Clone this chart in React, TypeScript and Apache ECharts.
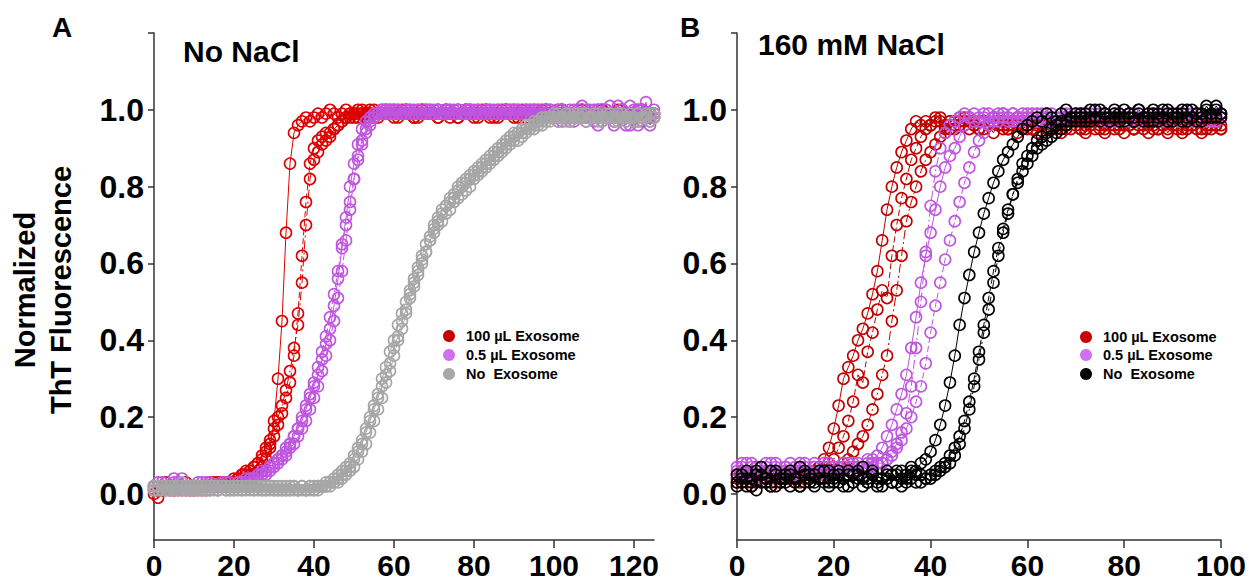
import React, { useEffect, useRef } from "react";
import * as echarts from "echarts";

// ---------- DATA ----------
const tA = [
  0,1,2,3,4,5,6,7,8,9,10,11,12,13,14,15,16,17,18,19,20,21,22,23,24,25,26,27,28,29,
  30,31,32,33,34,35,36,37,38,39,40,41,42,43,44,45,46,47,48,49,50,51,52,53,54,55,56,57,58,59,
  60,61,62,63,64,65,66,67,68,69,70,71,72,73,74,75,76,77,78,79,80,81,82,83,84,85,86,87,88,89,
  90,91,92,93,94,95,96,97,98,99,100,101,102,103,104,105,106,107,108,109,110,111,112,113,114,115,116,117,118,119,
  120,121,122,123,124,125,
];
const tB = [
  0,1,2,3,4,5,6,7,8,9,10,11,12,13,14,15,16,17,18,19,20,21,22,23,24,25,26,27,28,29,
  30,31,32,33,34,35,36,37,38,39,40,41,42,43,44,45,46,47,48,49,50,51,52,53,54,55,56,57,58,59,
  60,61,62,63,64,65,66,67,68,69,70,71,72,73,74,75,76,77,78,79,80,81,82,83,84,85,86,87,88,89,
  90,91,92,93,94,95,96,97,98,99,100,
];

const xTicksA = [0, 20, 40, 60, 80, 100, 120];
const xTicksB = [0, 20, 40, 60, 80, 100];
const yLabels = [0, 0.2, 0.4, 0.6, 0.8, 1.0];
const yTicks = [0, 0.2, 0.4, 0.6, 0.8, 1.0, 1.2];
const legendNames = ["100 µL Exosome", "0.5 µL Exosome", "No  Exosome"];

// Panel A (No NaCl)
const aRed1 = [
  0.02,0.01,0.02,0.03,0.02,0.01,0.02,0.02,0.03,0.02,
  0.02,0.01,0.02,0.02,0.03,0.02,0.02,0.03,0.02,0.03,
  0.03,0.03,0.04,0.04,0.05,0.05,0.06,0.07,0.09,0.12,
  0.19,0.30,0.45,0.68,0.86,0.94,0.96,0.97,0.98,0.97,
  0.98,0.99,0.98,0.99,1.00,0.99,0.98,0.99,1.00,0.99,
  0.99,1.00,0.99,0.98,0.99,1.00,0.99,0.99,1.00,0.99,
  1.00,0.99,0.99,1.00,0.99,0.98,0.99,1.00,0.99,0.99,
  0.99,1.00,0.99,0.99,0.98,0.99,1.00,0.99,0.99,1.00,
  0.99,0.99,1.00,0.99,0.98,0.99,0.99,1.00,0.99,0.99,
  1.00,0.99,0.99,0.98,0.99,1.00,0.99,0.99,1.00,0.99,
  0.99,1.00,0.99,0.98,0.99,0.99,1.00,0.99,0.99,0.98,
  0.99,1.00,0.99,0.99,0.98,0.99,1.00,0.99,0.99,0.98,
  0.99,1.00,0.99,0.99,0.98,0.99,
];
const aRed2 = [
  0.01,0.02,0.01,0.02,0.02,0.01,0.02,0.01,0.02,0.02,
  0.01,0.02,0.02,0.01,0.02,0.02,0.03,0.02,0.03,0.03,
  0.04,0.04,0.05,0.06,0.06,0.07,0.08,0.09,0.11,0.13,
  0.15,0.18,0.21,0.25,0.29,0.36,0.47,0.62,0.76,0.86,
  0.90,0.92,0.93,0.94,0.94,0.95,0.96,0.97,0.98,0.98,
  0.99,0.98,0.99,0.99,1.00,0.99,0.98,0.99,0.99,1.00,
  0.99,0.98,0.99,1.00,0.99,0.99,0.98,0.99,1.00,0.99,
  0.99,0.98,0.99,1.00,0.99,0.99,0.98,0.99,1.00,0.99,
  0.98,0.99,0.99,1.00,0.99,0.98,0.99,0.99,1.00,0.99,
  0.99,0.98,0.99,1.00,0.99,0.99,0.98,0.99,1.00,0.99,
  0.98,0.99,1.00,0.99,0.99,0.98,0.99,1.00,0.99,0.99,
  0.98,0.99,1.00,0.99,0.99,0.98,0.99,1.00,0.99,0.99,
  0.98,0.99,1.00,0.99,0.98,0.99,
];
const aRed3 = [
  0.00,-0.01,0.01,0.02,0.01,0.02,0.01,0.02,0.02,0.01,
  0.02,0.02,0.01,0.02,0.02,0.03,0.02,0.03,0.03,0.03,
  0.03,0.04,0.05,0.05,0.06,0.07,0.08,0.10,0.12,0.14,
  0.17,0.20,0.23,0.27,0.32,0.38,0.44,0.55,0.70,0.82,
  0.87,0.89,0.91,0.92,0.93,0.95,0.96,0.97,0.98,0.99,
  0.98,0.99,1.00,0.99,0.99,0.98,0.99,1.00,0.99,0.99,
  0.98,0.99,1.00,0.99,0.99,0.98,0.99,1.00,0.99,0.99,
  0.99,0.98,0.99,1.00,0.99,0.99,0.98,0.99,1.00,0.99,
  0.99,0.98,0.99,1.00,0.99,0.99,0.98,0.99,1.00,0.99,
  0.98,0.99,1.00,0.99,0.99,0.98,0.99,1.00,0.99,0.99,
  0.98,0.99,1.00,0.99,0.99,0.98,0.99,1.00,0.99,0.99,
  0.98,0.99,1.00,0.99,0.99,0.98,0.99,1.00,0.99,0.99,
  0.98,0.99,1.00,0.99,0.99,0.98,
];
const aPur1 = [
  0.02,0.03,0.02,0.01,0.02,0.03,0.02,0.04,0.01,0.02,
  0.02,0.02,0.03,0.02,0.01,0.02,0.02,0.02,0.03,0.02,
  0.02,0.03,0.03,0.03,0.04,0.04,0.05,0.05,0.06,0.07,
  0.08,0.09,0.10,0.11,0.13,0.15,0.17,0.19,0.22,0.25,
  0.28,0.31,0.35,0.39,0.43,0.49,0.56,0.64,0.72,0.80,
  0.86,0.91,0.95,0.97,0.98,0.99,0.99,1.00,0.99,1.00,
  0.99,1.00,0.99,0.99,1.00,0.99,1.00,0.99,0.99,1.00,
  0.99,1.00,0.99,0.99,1.00,0.99,1.00,0.99,0.99,1.00,
  0.99,1.00,0.99,0.99,1.00,0.99,1.00,0.99,0.99,1.00,
  0.99,1.00,0.99,0.99,1.00,0.99,1.00,0.99,0.99,1.00,
  0.99,0.98,1.00,0.99,0.97,1.00,0.99,0.98,1.00,0.99,
  0.97,1.00,0.99,0.98,1.01,0.97,0.99,1.00,0.96,0.99,
  1.00,0.97,0.99,1.02,0.96,0.99,
];
const aPur2 = [
  0.01,0.02,0.03,0.02,0.02,0.04,0.03,0.02,0.02,0.01,
  0.02,0.03,0.02,0.02,0.03,0.02,0.02,0.03,0.02,0.03,
  0.02,0.02,0.03,0.03,0.03,0.04,0.04,0.05,0.05,0.06,
  0.07,0.08,0.09,0.10,0.12,0.13,0.15,0.17,0.19,0.22,
  0.25,0.28,0.32,0.36,0.40,0.45,0.51,0.58,0.66,0.74,
  0.82,0.88,0.92,0.95,0.97,0.98,0.99,0.99,1.00,0.99,
  1.00,0.99,0.99,1.00,0.99,1.00,0.99,0.99,1.00,0.99,
  1.00,0.99,0.99,1.00,0.99,1.00,0.99,0.99,1.00,0.99,
  1.00,0.99,0.99,1.00,0.99,1.00,0.99,0.99,1.00,0.99,
  1.00,0.99,0.99,1.00,0.99,1.00,0.99,0.99,1.00,0.99,
  0.98,1.00,0.97,0.99,1.00,0.98,0.99,1.01,0.97,0.99,
  1.00,0.96,0.99,1.00,0.98,0.97,1.01,0.99,0.98,0.96,
  0.99,1.00,0.97,0.99,0.98,1.00,
];
const aPur3 = [
  0.02,0.01,0.02,0.02,0.01,0.02,0.03,0.02,0.01,0.02,
  0.01,0.02,0.02,0.03,0.02,0.02,0.01,0.02,0.02,0.02,
  0.02,0.03,0.03,0.04,0.04,0.04,0.05,0.06,0.06,0.07,
  0.08,0.09,0.10,0.12,0.13,0.15,0.17,0.20,0.23,0.26,
  0.29,0.33,0.37,0.41,0.46,0.52,0.58,0.65,0.70,0.76,
  0.82,0.87,0.91,0.94,0.96,0.98,0.99,0.99,1.00,0.99,
  0.99,1.00,0.99,0.99,1.00,0.99,1.00,0.99,0.99,1.00,
  0.99,1.00,0.99,0.99,1.00,0.99,1.00,0.99,0.99,1.00,
  0.99,1.00,0.99,0.99,1.00,0.99,1.00,0.99,0.99,1.00,
  0.99,1.00,0.99,0.99,1.00,0.99,1.00,0.99,0.99,1.00,
  0.99,0.97,1.00,0.98,0.99,0.97,1.00,0.99,0.98,1.00,
  0.98,0.99,0.97,1.00,0.99,0.96,0.98,1.00,0.97,1.01,
  0.98,0.96,1.00,0.99,0.97,0.98,
];
const aGray1 = [
  0.01,0.02,0.01,0.02,0.02,0.01,0.02,0.03,0.02,0.01,
  0.02,0.02,0.01,0.02,0.02,0.01,0.02,0.02,0.01,0.02,
  0.01,0.02,0.02,0.01,0.02,0.01,0.01,0.02,0.01,0.02,
  0.01,0.01,0.02,0.01,0.01,0.02,0.01,0.01,0.01,0.02,
  0.01,0.02,0.02,0.02,0.03,0.03,0.04,0.05,0.06,0.07,
  0.09,0.11,0.13,0.16,0.19,0.22,0.25,0.28,0.31,0.34,
  0.38,0.41,0.45,0.48,0.52,0.55,0.58,0.61,0.63,0.66,
  0.68,0.70,0.71,0.73,0.74,0.76,0.77,0.78,0.79,0.80,
  0.82,0.83,0.84,0.85,0.86,0.87,0.88,0.89,0.90,0.91,
  0.92,0.92,0.93,0.94,0.95,0.95,0.96,0.96,0.97,0.97,
  0.98,0.97,0.98,0.98,0.97,0.98,0.99,0.98,0.97,0.98,
  0.98,0.97,0.98,0.99,0.98,0.97,0.98,0.98,0.97,0.98,
  0.98,0.97,0.98,0.99,0.97,0.98,
];
const aGray2 = [
  0.02,0.01,0.02,0.01,0.01,0.02,0.02,0.01,0.02,0.02,
  0.01,0.02,0.01,0.01,0.02,0.02,0.01,0.02,0.01,0.01,
  0.02,0.01,0.01,0.02,0.01,0.02,0.02,0.01,0.01,0.02,
  0.01,0.02,0.01,0.01,0.02,0.01,0.01,0.02,0.01,0.01,
  0.01,0.01,0.02,0.02,0.02,0.03,0.03,0.04,0.05,0.06,
  0.07,0.09,0.11,0.13,0.16,0.19,0.22,0.25,0.29,0.32,
  0.36,0.40,0.43,0.47,0.51,0.54,0.57,0.60,0.63,0.66,
  0.69,0.71,0.73,0.75,0.77,0.78,0.80,0.81,0.82,0.83,
  0.84,0.85,0.86,0.87,0.88,0.89,0.90,0.91,0.92,0.93,
  0.94,0.94,0.95,0.96,0.96,0.97,0.97,0.98,0.98,0.98,
  0.99,0.98,0.98,0.99,0.98,0.99,0.98,0.98,0.99,0.98,
  0.98,0.99,0.98,0.98,0.99,0.98,0.99,0.98,0.98,0.99,
  0.98,0.99,0.98,0.98,0.99,0.98,
];
const aGray3 = [
  0.01,0.02,0.02,0.01,0.02,0.01,0.01,0.02,0.01,0.02,
  0.02,0.01,0.02,0.02,0.01,0.02,0.01,0.02,0.02,0.01,
  0.01,0.02,0.01,0.02,0.02,0.01,0.02,0.01,0.02,0.01,
  0.02,0.01,0.01,0.02,0.01,0.02,0.01,0.02,0.01,0.02,
  0.02,0.02,0.02,0.03,0.03,0.04,0.05,0.06,0.07,0.08,
  0.10,0.12,0.14,0.17,0.20,0.23,0.26,0.30,0.33,0.37,
  0.40,0.44,0.47,0.50,0.53,0.56,0.59,0.62,0.65,0.67,
  0.70,0.72,0.74,0.75,0.76,0.77,0.79,0.80,0.81,0.82,
  0.83,0.84,0.85,0.86,0.87,0.88,0.89,0.90,0.91,0.92,
  0.93,0.94,0.94,0.95,0.96,0.96,0.97,0.97,0.98,0.98,
  0.98,0.99,0.98,0.97,0.99,0.98,0.98,0.99,0.97,0.98,
  0.99,0.98,0.97,0.98,0.99,0.98,0.97,0.99,0.98,0.98,
  0.97,0.99,0.98,0.98,0.97,0.99,
];

// Panel B (160 mM NaCl)
const bRed1 = [
  0.04,0.03,0.05,0.02,0.04,0.06,0.03,0.05,0.04,0.03,
  0.05,0.04,0.06,0.03,0.05,0.04,0.06,0.07,0.09,0.12,
  0.17,0.23,0.30,0.33,0.36,0.40,0.43,0.47,0.52,0.58,
  0.66,0.74,0.80,0.85,0.89,0.92,0.95,0.97,0.96,0.97,
  0.96,0.97,0.98,0.96,0.97,0.95,0.97,0.96,0.98,0.97,
  0.95,0.97,0.96,0.98,0.97,0.95,0.96,0.97,0.98,0.96,
  0.97,0.95,0.96,0.98,0.97,0.96,0.95,0.97,0.96,0.98,
  0.97,0.95,0.96,0.97,0.98,0.96,0.95,0.97,0.96,0.97,
  0.98,0.96,0.95,0.97,0.96,0.98,0.97,0.95,0.96,0.97,
  0.96,0.98,0.95,0.97,0.96,0.97,0.98,0.95,0.96,0.97,
  0.96,
];
const bRed2 = [
  0.05,0.06,0.03,0.05,0.07,0.04,0.05,0.06,0.03,0.05,
  0.06,0.04,0.05,0.07,0.04,0.06,0.05,0.06,0.07,0.08,
  0.09,0.12,0.15,0.19,0.24,0.31,0.29,0.37,0.42,0.48,
  0.53,0.51,0.62,0.70,0.77,0.82,0.87,0.90,0.93,0.95,
  0.96,0.98,0.97,0.95,0.97,0.96,0.98,0.97,0.95,0.96,
  0.97,0.95,0.96,0.98,0.96,0.97,0.95,0.96,0.98,0.97,
  0.96,0.95,0.97,0.96,0.98,0.95,0.97,0.96,0.95,0.97,
  0.96,0.98,0.95,0.96,0.97,0.95,0.96,0.98,0.97,0.95,
  0.96,0.97,0.95,0.96,0.98,0.96,0.95,0.97,0.96,0.95,
  0.97,0.96,0.98,0.95,0.96,0.97,0.95,0.96,0.98,0.96,
  0.95,
];
const bRed3 = [
  0.03,0.05,0.04,0.06,0.03,0.05,0.04,0.02,0.05,0.04,
  0.04,0.06,0.03,0.05,0.04,0.05,0.06,0.04,0.05,0.06,
  0.06,0.07,0.08,0.09,0.11,0.13,0.15,0.18,0.22,0.26,
  0.31,0.36,0.45,0.53,0.62,0.71,0.76,0.80,0.84,0.87,
  0.89,0.91,0.93,0.94,0.95,0.97,0.96,0.98,0.97,0.96,
  0.95,0.97,0.96,0.94,0.97,0.96,0.95,0.97,0.94,0.96,
  0.95,0.97,0.94,0.96,0.95,0.97,0.96,0.94,0.96,0.95,
  0.97,0.95,0.94,0.96,0.95,0.97,0.94,0.96,0.95,0.96,
  0.94,0.96,0.95,0.97,0.95,0.94,0.96,0.95,0.97,0.94,
  0.96,0.95,0.94,0.96,0.97,0.95,0.94,0.96,0.95,0.96,
  0.95,
];
const bPur1 = [
  0.07,0.05,0.08,0.06,0.04,0.07,0.06,0.08,0.05,0.06,
  0.07,0.05,0.06,0.08,0.06,0.05,0.07,0.06,0.08,0.06,
  0.07,0.06,0.08,0.06,0.07,0.08,0.07,0.09,0.09,0.10,
  0.12,0.15,0.18,0.22,0.26,0.31,0.38,0.46,0.55,0.62,
  0.68,0.74,0.80,0.85,0.88,0.90,0.93,0.96,0.98,0.97,
  0.98,0.99,0.97,0.98,0.99,0.98,0.97,0.99,0.98,0.97,
  0.98,0.97,0.99,0.98,0.97,0.99,0.98,0.97,0.98,0.99,
  0.97,0.98,0.99,0.97,0.98,0.99,0.98,0.97,0.98,0.99,
  0.98,0.97,0.99,0.98,0.97,0.98,0.99,0.98,0.97,0.99,
  0.98,0.97,0.98,0.99,0.98,0.97,0.99,0.98,0.97,0.98,
  0.99,
];
const bPur2 = [
  0.06,0.08,0.05,0.07,0.06,0.04,0.08,0.06,0.07,0.05,
  0.06,0.08,0.07,0.05,0.07,0.06,0.08,0.05,0.07,0.06,
  0.06,0.07,0.06,0.08,0.07,0.06,0.07,0.08,0.07,0.08,
  0.08,0.09,0.10,0.12,0.14,0.17,0.20,0.24,0.28,0.34,
  0.42,0.49,0.55,0.61,0.66,0.71,0.76,0.81,0.85,0.89,
  0.92,0.94,0.96,0.97,0.98,0.99,0.98,0.99,0.97,0.98,
  0.99,0.98,0.97,0.99,0.98,0.97,0.98,0.99,0.97,0.98,
  0.99,0.97,0.98,0.99,0.98,0.97,0.99,0.98,0.97,0.98,
  0.97,0.99,0.98,0.97,0.98,0.99,0.97,0.98,0.99,0.98,
  0.97,0.98,0.99,0.98,0.97,0.99,0.98,0.97,0.98,0.99,
  0.98,
];
const bPur3 = [
  0.05,0.07,0.06,0.08,0.05,0.06,0.07,0.05,0.08,0.06,
  0.07,0.06,0.05,0.07,0.08,0.06,0.07,0.05,0.06,0.08,
  0.07,0.06,0.07,0.06,0.08,0.07,0.06,0.07,0.08,0.08,
  0.08,0.09,0.11,0.13,0.16,0.21,0.28,0.38,0.50,0.63,
  0.75,0.84,0.90,0.94,0.96,0.97,0.98,0.99,0.98,0.99,
  0.97,0.98,0.99,0.98,0.97,0.99,0.98,0.97,0.98,0.99,
  0.98,0.99,0.97,0.98,0.99,0.98,0.97,0.98,0.99,0.97,
  0.98,0.99,0.98,0.97,0.99,0.98,0.97,0.98,0.99,0.98,
  0.97,0.98,0.99,0.97,0.98,0.99,0.98,0.97,0.98,0.99,
  0.98,0.99,0.97,0.98,0.99,0.98,0.97,0.98,0.99,0.97,
  0.98,
];
const bBlk1 = [
  0.03,0.05,0.02,0.04,0.06,0.03,0.04,0.02,0.05,0.03,
  0.04,0.06,0.03,0.02,0.05,0.04,0.03,0.06,0.04,0.02,
  0.05,0.03,0.04,0.06,0.03,0.05,0.02,0.04,0.06,0.03,
  0.04,0.05,0.03,0.06,0.04,0.05,0.07,0.06,0.08,0.09,
  0.11,0.14,0.18,0.23,0.29,0.36,0.44,0.51,0.57,0.63,
  0.68,0.73,0.77,0.81,0.84,0.87,0.89,0.91,0.93,0.95,
  0.96,0.97,0.98,0.97,0.99,0.98,0.97,0.99,1.00,0.98,
  0.99,0.97,0.98,1.00,0.98,0.97,0.99,0.98,1.00,0.97,
  0.98,0.99,0.97,1.00,0.98,0.99,0.97,0.98,1.00,0.99,
  0.97,0.98,0.99,1.00,0.98,0.97,0.99,1.00,0.98,1.01,
  0.99,
];
const bBlk2 = [
  0.02,0.04,0.06,0.03,0.01,0.05,0.03,0.06,0.02,0.04,
  0.05,0.02,0.04,0.07,0.03,0.05,0.02,0.04,0.06,0.03,
  0.04,0.06,0.02,0.05,0.03,0.04,0.07,0.03,0.05,0.02,
  0.04,0.06,0.03,0.05,0.02,0.04,0.06,0.03,0.05,0.04,
  0.05,0.06,0.07,0.08,0.10,0.12,0.15,0.19,0.24,0.30,
  0.37,0.44,0.51,0.58,0.64,0.69,0.74,0.78,0.81,0.84,
  0.86,0.88,0.90,0.91,0.92,0.93,0.94,0.95,0.96,0.97,
  0.97,0.98,0.99,0.97,0.98,1.00,0.98,0.97,0.99,0.98,
  0.97,0.99,0.98,1.00,0.97,0.98,0.99,0.97,0.98,1.00,
  0.98,0.99,0.97,0.98,1.00,0.99,0.97,0.98,0.99,1.00,
  0.98,
];
const bBlk3 = [
  0.05,0.03,0.04,0.02,0.05,0.07,0.04,0.03,0.06,0.04,
  0.03,0.05,0.04,0.02,0.06,0.03,0.05,0.04,0.03,0.06,
  0.03,0.05,0.04,0.02,0.05,0.06,0.04,0.03,0.05,0.04,
  0.02,0.04,0.05,0.03,0.06,0.03,0.04,0.05,0.03,0.04,
  0.04,0.05,0.06,0.07,0.08,0.10,0.13,0.17,0.22,0.28,
  0.35,0.42,0.48,0.55,0.62,0.68,0.73,0.78,0.82,0.86,
  0.88,0.90,0.92,0.93,0.94,0.95,0.96,0.97,0.97,0.98,
  0.98,0.99,0.97,0.98,1.00,0.98,0.99,0.97,0.98,0.99,
  1.00,0.98,0.97,0.99,0.98,0.97,1.00,0.99,0.98,0.97,
  0.99,0.98,1.00,0.97,0.98,0.99,0.98,1.01,0.99,0.98,
  0.99,
];

// ---------- STYLE ----------
const FONT = "'Liberation Sans', Arial, Helvetica, sans-serif";
const RED_A = "#DD0000";
const RED_B = "#C20000";
const PURPLE = "#BF55E0";
const GRAY = "#A6A6A6";
const BLACK = "#000000";
const LEG_RED = "#C80000";
const LEG_PURPLE = "#D070F0";
const LEG_GRAY = "#A8A8A8";

const DASHES: any[] = ["solid", [6, 3], [9, 3, 2, 3]];

function mk(name: string, gi: number, t: number[], ys: number[], color: string, rep: number) {
  return {
    type: "line",
    name,
    xAxisIndex: gi,
    yAxisIndex: gi,
    data: ys.map((y, i) => [t[i], y]),
    symbol: "circle",
    symbolSize: 11,
    showSymbol: true,
    showAllSymbol: true,
    silent: true,
    clip: true,
    itemStyle: { color: "rgba(0,0,0,0)", borderColor: color, borderWidth: 1.6 },
    lineStyle: { color, width: 1, type: DASHES[rep] },
    emphasis: { disabled: true },
  };
}

function xAxis(gi: number, max: number, ticks: number[]) {
  return {
    type: "value",
    gridIndex: gi,
    min: 0,
    max,
    axisLine: { show: true, onZero: false, lineStyle: { color: "#333", width: 1.5 } },
    axisTick: { show: true, length: 8, customValues: ticks, lineStyle: { color: "#333", width: 1.5 } },
    axisLabel: {
      show: true,
      customValues: ticks,
      margin: 10,
      color: "#000",
      fontSize: 30,
      lineHeight: 30,
      fontWeight: "bold",
      fontFamily: FONT,
    },
    splitLine: { show: false },
  };
}

function yAxis(gi: number) {
  return {
    type: "value",
    gridIndex: gi,
    min: -0.12,
    max: 1.2,
    axisLine: { show: true, onZero: false, lineStyle: { color: "#333", width: 1.5 } },
    axisTick: { show: true, length: 6, customValues: yTicks, lineStyle: { color: "#333", width: 1.5 } },
    axisLabel: {
      show: true,
      customValues: yLabels,
      formatter: (v: number) => v.toFixed(1),
      margin: 10,
      color: "#000",
      fontSize: 32,
      fontWeight: "bold",
      fontFamily: FONT,
    },
    splitLine: { show: false },
  };
}

function txt(text: string, x: number, y: number, size: number, opts: any = {}) {
  return {
    type: "text",
    x,
    y,
    rotation: opts.rotation || 0,
    silent: true,
    style: {
      text,
      fill: "#000",
      font: `bold ${size}px ${FONT}`,
      align: opts.align || "left",
      verticalAlign: "middle",
      textAlign: opts.align || "left",
      textVerticalAlign: "middle",
    },
  };
}

function legend(x: number, ys: number[], colors: string[]) {
  const out: any[] = [];
  ys.forEach((y, i) => {
    out.push({ type: "circle", silent: true, shape: { cx: x, cy: y, r: 6 }, style: { fill: colors[i] } });
    out.push(txt(legendNames[i], x + 17, y, 14.5));
  });
  return out;
}

export default function App() {
  const ref = useRef<HTMLDivElement>(null);
  useEffect(() => {
    if (!ref.current) return;
    const chart = echarts.init(ref.current, undefined, { renderer: "svg" });
    const option: any = {
      animation: false,
      backgroundColor: "#fff",
      grid: [
        { left: 154, top: 33, width: 500, height: 507 },
        { left: 737, top: 33, width: 494, height: 507 },
      ],
      xAxis: [xAxis(0, 125, xTicksA), xAxis(1, 100, xTicksB)],
      yAxis: [yAxis(0), yAxis(1)],
      series: [
        mk(legendNames[0], 0, tA, aRed1, RED_A, 0),
        mk(legendNames[0], 0, tA, aRed2, RED_A, 1),
        mk(legendNames[0], 0, tA, aRed3, RED_A, 2),
        mk(legendNames[1], 0, tA, aPur1, PURPLE, 0),
        mk(legendNames[1], 0, tA, aPur2, PURPLE, 1),
        mk(legendNames[1], 0, tA, aPur3, PURPLE, 2),
        mk(legendNames[2], 0, tA, aGray1, GRAY, 0),
        mk(legendNames[2], 0, tA, aGray2, GRAY, 1),
        mk(legendNames[2], 0, tA, aGray3, GRAY, 2),
        mk(legendNames[0], 1, tB, bRed1, RED_B, 0),
        mk(legendNames[0], 1, tB, bRed2, RED_B, 1),
        mk(legendNames[0], 1, tB, bRed3, RED_B, 2),
        mk(legendNames[1], 1, tB, bPur1, PURPLE, 0),
        mk(legendNames[1], 1, tB, bPur2, PURPLE, 1),
        mk(legendNames[1], 1, tB, bPur3, PURPLE, 2),
        mk(legendNames[2], 1, tB, bBlk1, BLACK, 0),
        mk(legendNames[2], 1, tB, bBlk2, BLACK, 1),
        mk(legendNames[2], 1, tB, bBlk3, BLACK, 2),
      ],
      graphic: [
        txt("A", 52, 27, 28),
        txt("No NaCl", 183, 51, 30),
        txt("B", 680, 27, 28),
        txt("160 mM NaCl", 758, 44, 30),
        txt("Normalized", 25, 290, 29, { rotation: Math.PI / 2, align: "center" }),
        txt("ThT Fluorescence", 61, 290, 29, { rotation: Math.PI / 2, align: "center" }),
        ...legend(449, [336, 355, 374], [LEG_RED, LEG_PURPLE, LEG_GRAY]),
        ...legend(1086, [337, 355, 374], [LEG_RED, LEG_PURPLE, BLACK]),
      ],
    };
    chart.setOption(option);
    return () => chart.dispose();
  }, []);
  return (
    <div
      ref={ref}
      style={{ position: "absolute", left: 0, top: 0, width: 1249, height: 583, background: "#fff" }}
    />
  );
}
